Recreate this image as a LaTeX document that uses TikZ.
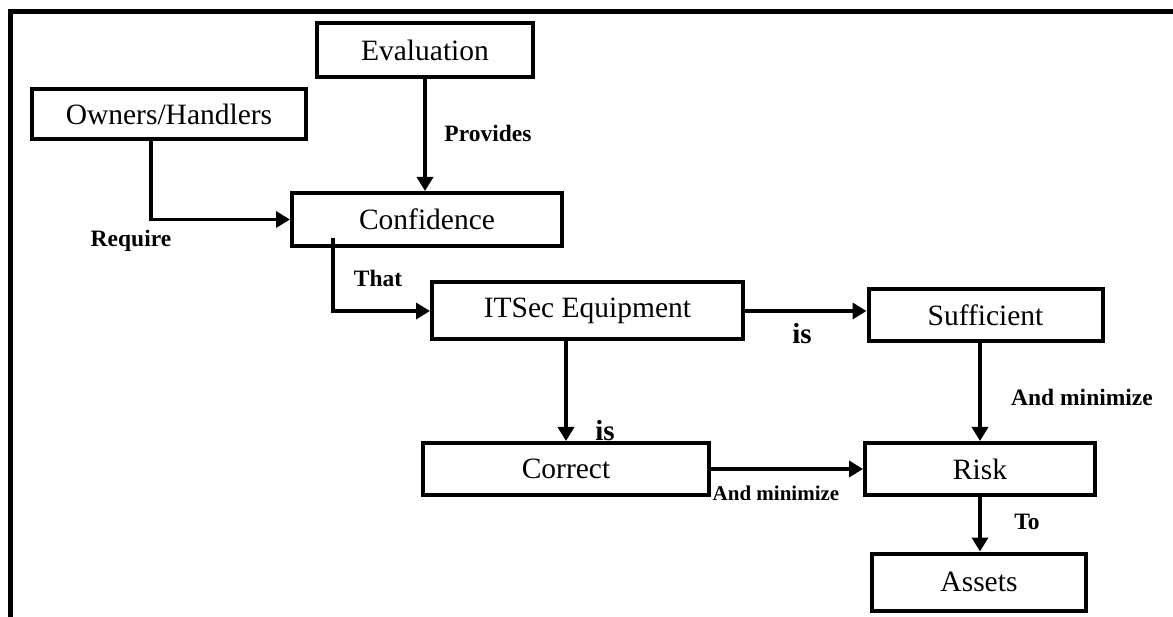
\documentclass[tikz,border=0pt]{standalone}
\usepackage{fontspec}
\setmainfont{Liberation Serif}
\usetikzlibrary{arrows.meta}
\begin{document}
\begin{tikzpicture}[x=1pt,y=-1pt,
  box/.style={draw,line width=4pt,rectangle,inner sep=0pt,
    font=\fontsize{29.5}{34}\selectfont},
  arr/.style={line width=3.6pt,-{Triangle[length=14pt,width=16pt]}},
  lbl/.style={font=\fontsize{23.5}{28}\selectfont\bfseries,inner sep=0pt},
  lblbig/.style={font=\fontsize{29}{34}\selectfont\bfseries,inner sep=0pt},
  lblsmall/.style={font=\fontsize{21}{25}\selectfont\bfseries,inner sep=0pt}]
\useasboundingbox (0,0) rectangle (1173,617);
\fill[white] (0,0) rectangle (1173,617);

% frame along the top and left edges
\draw[line width=5pt] (10,617) -- (10,12) -- (1173,12);

% boxes
\node[box,minimum width=216pt,minimum height=54pt] (eval)   at (425,50)    {Evaluation};
\node[box,minimum width=274pt,minimum height=50pt] (own)    at (169,114)   {Owners/Handlers};
\node[box,minimum width=270pt,minimum height=53pt] (conf)   at (427,219.5) {Confidence};
\node[box,minimum width=311pt,minimum height=57pt] (itsec)  at (587.5,311) {ITSec Equipment};
\node[box,minimum width=234pt,minimum height=52pt] (suff)   at (985.5,315) {Sufficient};
\node[box,minimum width=286pt,minimum height=52pt] (corr)   at (566,469)   {Correct};
\node[box,minimum width=230pt,minimum height=52pt] (risk)   at (980,469)   {Risk};
\node[box,minimum width=214pt,minimum height=57pt] (assets) at (979,582)   {Assets};

% connectors
\coordinate (ownout) at ([xshift=-18pt]own.south);
\draw[arr] (ownout) |- (conf.west);
\draw[arr] (eval.south) -- (eval.south |- conf.north);
\coordinate (confout) at (333,238);
\draw[arr] (confout) |- (itsec.west);
\draw[arr] (itsec.east) -- (itsec.east -| suff.west);
\draw[arr] (itsec.south -| corr.north) -- (corr.north);
\draw[arr] (suff.south -| risk.north) -- (risk.north);
\draw[arr] (corr.east) -- (corr.east -| risk.west);
\draw[arr] (risk.south) -- (risk.south |- assets.north);

% connector labels
\node[lbl] (lprov) at (488,133) {Provides};
\node[lbl] (lreq)  at (131,241) {Require};
\node[lbl] (lthat) at (378,278) {That};
\node[lblbig] (lis1) at (802,334) {is};
\node[lblbig] (lis2) at (605,431) {is};
\node[lbl] (lmin1) at (1082,397) {And minimize};
\node[lblsmall] (lmin2) at (776,493) {And minimize};
\node[lbl] (lto) at (1027,522) {To};
\end{tikzpicture}
\end{document}
